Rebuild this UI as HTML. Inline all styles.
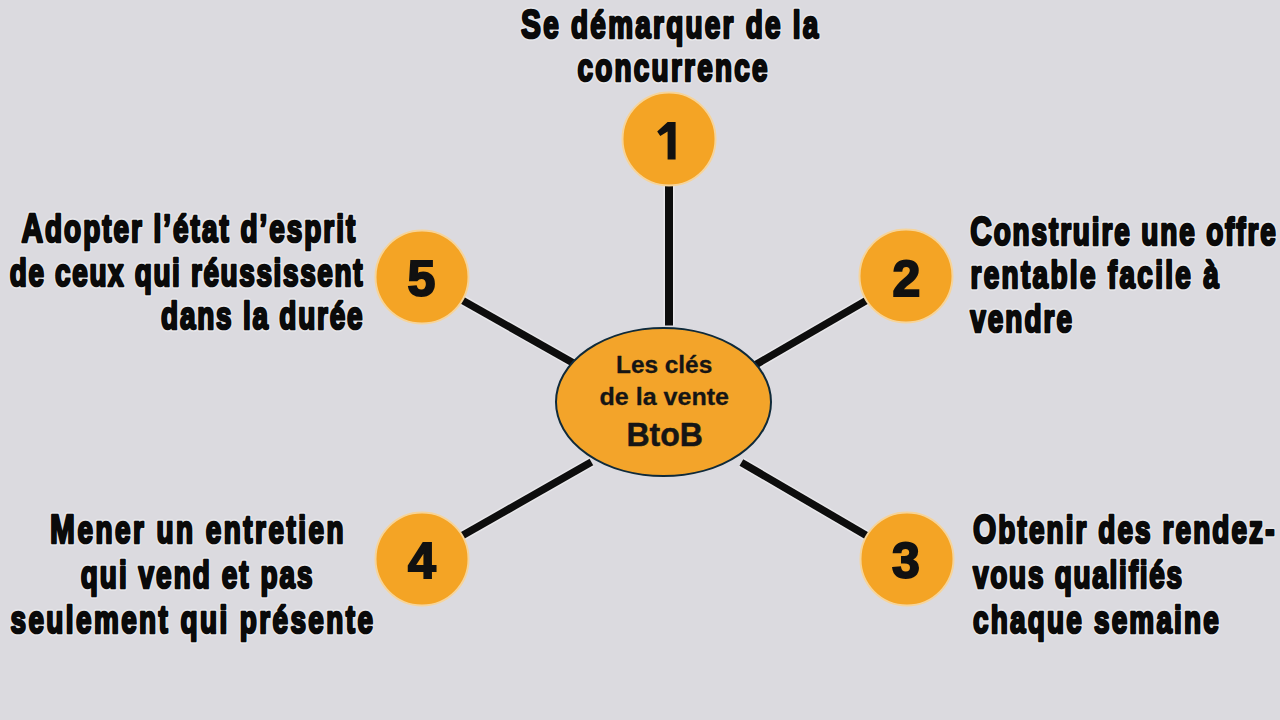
<!DOCTYPE html>
<html><head><meta charset="utf-8"><style>
html,body{margin:0;padding:0;width:1280px;height:720px;overflow:hidden;background:#dbdadf;}
svg{display:block;font-family:"Liberation Sans",sans-serif;}
</style></head><body>
<svg width="1280" height="720" viewBox="0 0 1280 720">
<rect width="1280" height="720" fill="#dbdadf"/>
<line x1="669" y1="325.5" x2="669" y2="139" stroke="#efeff1" stroke-width="11" opacity="0.7"/>
<line x1="700" y1="397" x2="906" y2="277.5" stroke="#efeff1" stroke-width="10.5" opacity="0.7"/>
<line x1="741.4" y1="462.5" x2="907" y2="559.2" stroke="#efeff1" stroke-width="10.5" opacity="0.7"/>
<line x1="591.4" y1="462" x2="422" y2="558.6" stroke="#efeff1" stroke-width="10.5" opacity="0.7"/>
<line x1="640" y1="400.8" x2="422" y2="277.4" stroke="#efeff1" stroke-width="10.5" opacity="0.7"/>
<line x1="669" y1="325.5" x2="669" y2="139" stroke="#0d0d0d" stroke-width="8"/>
<line x1="700" y1="397" x2="906" y2="277.5" stroke="#0d0d0d" stroke-width="7.5"/>
<line x1="741.4" y1="462.5" x2="907" y2="559.2" stroke="#0d0d0d" stroke-width="7.5"/>
<line x1="591.4" y1="462" x2="422" y2="558.6" stroke="#0d0d0d" stroke-width="7.5"/>
<line x1="640" y1="400.8" x2="422" y2="277.4" stroke="#0d0d0d" stroke-width="7.5"/>
<circle cx="669" cy="139" r="46.5" fill="#f4a425" stroke="#f6d49a" stroke-width="2"/>
<circle cx="906" cy="276" r="46.5" fill="#f4a425" stroke="#f6d49a" stroke-width="2"/>
<circle cx="907" cy="559" r="46.5" fill="#f4a425" stroke="#f6d49a" stroke-width="2"/>
<circle cx="422" cy="559" r="46.5" fill="#f4a425" stroke="#f6d49a" stroke-width="2"/>
<circle cx="422" cy="277" r="46.5" fill="#f4a425" stroke="#f6d49a" stroke-width="2"/>
<path d="M667.6 121.9 L675.6 121.9 L675.6 159.4 L667.6 159.4 L667.6 131.4 L660.3 135.9 L657.2 131.6 Z" fill="#111"/>
<text x="906.3" y="295.5" text-anchor="middle" font-size="50" font-weight="700" fill="#111" stroke="#111" stroke-width="2">2</text>
<text x="906" y="578.0" text-anchor="middle" font-size="50" font-weight="700" fill="#111" stroke="#111" stroke-width="2">3</text>
<text x="422" y="578.0" text-anchor="middle" font-size="50" font-weight="700" fill="#111" stroke="#111" stroke-width="2">4</text>
<text x="421.5" y="295.7" text-anchor="middle" font-size="50" font-weight="700" fill="#111" stroke="#111" stroke-width="2">5</text>
<ellipse cx="663.5" cy="402" rx="107.5" ry="74" fill="#f3a42a" stroke="#0f2a3a" stroke-width="2"/>
<text transform="translate(521.1 37.5) scale(0.72 1)" textLength="412.8" lengthAdjust="spacing" font-size="38.8" font-weight="700" fill="#e9e9ec" stroke="#e9e9ec" stroke-width="5.800000000000001" stroke-linejoin="round" opacity="0.8"><tspan font-size="41.5">S</tspan>e démarquer de la</text>
<text transform="translate(521.1 37.5) scale(0.72 1)" textLength="412.8" lengthAdjust="spacing" font-size="38.8" font-weight="700" fill="#0a0a0a" stroke="#0a0a0a" stroke-width="2.6" stroke-linejoin="round"><tspan font-size="41.5">S</tspan>e démarquer de la</text>
<text transform="translate(577.5 80.7) scale(0.72 1)" textLength="263.9" lengthAdjust="spacing" font-size="38.8" font-weight="700" fill="#e9e9ec" stroke="#e9e9ec" stroke-width="5.800000000000001" stroke-linejoin="round" opacity="0.8">concurrence</text>
<text transform="translate(577.5 80.7) scale(0.72 1)" textLength="263.9" lengthAdjust="spacing" font-size="38.8" font-weight="700" fill="#0a0a0a" stroke="#0a0a0a" stroke-width="2.6" stroke-linejoin="round">concurrence</text>
<text transform="translate(21.5 242.2) scale(0.72 1)" textLength="463.5" lengthAdjust="spacing" font-size="38.8" font-weight="700" fill="#e9e9ec" stroke="#e9e9ec" stroke-width="5.800000000000001" stroke-linejoin="round" opacity="0.8"><tspan font-size="41.5">A</tspan>dopter l’état d’esprit</text>
<text transform="translate(21.5 242.2) scale(0.72 1)" textLength="463.5" lengthAdjust="spacing" font-size="38.8" font-weight="700" fill="#0a0a0a" stroke="#0a0a0a" stroke-width="2.6" stroke-linejoin="round"><tspan font-size="41.5">A</tspan>dopter l’état d’esprit</text>
<text transform="translate(9.8 285.5) scale(0.72 1)" textLength="489.9" lengthAdjust="spacing" font-size="38.8" font-weight="700" fill="#e9e9ec" stroke="#e9e9ec" stroke-width="5.800000000000001" stroke-linejoin="round" opacity="0.8">de ceux qui réussissent</text>
<text transform="translate(9.8 285.5) scale(0.72 1)" textLength="489.9" lengthAdjust="spacing" font-size="38.8" font-weight="700" fill="#0a0a0a" stroke="#0a0a0a" stroke-width="2.6" stroke-linejoin="round">de ceux qui réussissent</text>
<text transform="translate(161.1 328.9) scale(0.72 1)" textLength="279.7" lengthAdjust="spacing" font-size="38.8" font-weight="700" fill="#e9e9ec" stroke="#e9e9ec" stroke-width="5.800000000000001" stroke-linejoin="round" opacity="0.8">dans la durée</text>
<text transform="translate(161.1 328.9) scale(0.72 1)" textLength="279.7" lengthAdjust="spacing" font-size="38.8" font-weight="700" fill="#0a0a0a" stroke="#0a0a0a" stroke-width="2.6" stroke-linejoin="round">dans la durée</text>
<text transform="translate(970.2 244.89999999999998) scale(0.72 1)" textLength="424.4" lengthAdjust="spacing" font-size="38.8" font-weight="700" fill="#e9e9ec" stroke="#e9e9ec" stroke-width="5.800000000000001" stroke-linejoin="round" opacity="0.8"><tspan font-size="41.5">C</tspan>onstruire une offre</text>
<text transform="translate(970.2 244.89999999999998) scale(0.72 1)" textLength="424.4" lengthAdjust="spacing" font-size="38.8" font-weight="700" fill="#0a0a0a" stroke="#0a0a0a" stroke-width="2.6" stroke-linejoin="round"><tspan font-size="41.5">C</tspan>onstruire une offre</text>
<text transform="translate(970.5 288.2) scale(0.72 1)" textLength="344.9" lengthAdjust="spacing" font-size="38.8" font-weight="700" fill="#e9e9ec" stroke="#e9e9ec" stroke-width="5.800000000000001" stroke-linejoin="round" opacity="0.8">rentable facile à</text>
<text transform="translate(970.5 288.2) scale(0.72 1)" textLength="344.9" lengthAdjust="spacing" font-size="38.8" font-weight="700" fill="#0a0a0a" stroke="#0a0a0a" stroke-width="2.6" stroke-linejoin="round">rentable facile à</text>
<text transform="translate(970.2 331.5) scale(0.72 1)" textLength="141.4" lengthAdjust="spacing" font-size="38.8" font-weight="700" fill="#e9e9ec" stroke="#e9e9ec" stroke-width="5.800000000000001" stroke-linejoin="round" opacity="0.8">vendre</text>
<text transform="translate(970.2 331.5) scale(0.72 1)" textLength="141.4" lengthAdjust="spacing" font-size="38.8" font-weight="700" fill="#0a0a0a" stroke="#0a0a0a" stroke-width="2.6" stroke-linejoin="round">vendre</text>
<text transform="translate(50.1 543.4000000000001) scale(0.72 1)" textLength="407.5" lengthAdjust="spacing" font-size="38.8" font-weight="700" fill="#e9e9ec" stroke="#e9e9ec" stroke-width="5.800000000000001" stroke-linejoin="round" opacity="0.8"><tspan font-size="41.5">M</tspan>ener un entretien</text>
<text transform="translate(50.1 543.4000000000001) scale(0.72 1)" textLength="407.5" lengthAdjust="spacing" font-size="38.8" font-weight="700" fill="#0a0a0a" stroke="#0a0a0a" stroke-width="2.6" stroke-linejoin="round"><tspan font-size="41.5">M</tspan>ener un entretien</text>
<text transform="translate(80.7 587.9000000000001) scale(0.72 1)" textLength="322.1" lengthAdjust="spacing" font-size="38.8" font-weight="700" fill="#e9e9ec" stroke="#e9e9ec" stroke-width="5.800000000000001" stroke-linejoin="round" opacity="0.8">qui vend et pas</text>
<text transform="translate(80.7 587.9000000000001) scale(0.72 1)" textLength="322.1" lengthAdjust="spacing" font-size="38.8" font-weight="700" fill="#0a0a0a" stroke="#0a0a0a" stroke-width="2.6" stroke-linejoin="round">qui vend et pas</text>
<text transform="translate(10.5 632.5) scale(0.72 1)" textLength="503.5" lengthAdjust="spacing" font-size="38.8" font-weight="700" fill="#e9e9ec" stroke="#e9e9ec" stroke-width="5.800000000000001" stroke-linejoin="round" opacity="0.8">seulement qui présente</text>
<text transform="translate(10.5 632.5) scale(0.72 1)" textLength="503.5" lengthAdjust="spacing" font-size="38.8" font-weight="700" fill="#0a0a0a" stroke="#0a0a0a" stroke-width="2.6" stroke-linejoin="round">seulement qui présente</text>
<text transform="translate(973.0 542.9000000000001) scale(0.72 1)" textLength="418.7" lengthAdjust="spacing" font-size="38.8" font-weight="700" fill="#e9e9ec" stroke="#e9e9ec" stroke-width="5.800000000000001" stroke-linejoin="round" opacity="0.8"><tspan font-size="41.5">O</tspan>btenir des rendez-</text>
<text transform="translate(973.0 542.9000000000001) scale(0.72 1)" textLength="418.7" lengthAdjust="spacing" font-size="38.8" font-weight="700" fill="#0a0a0a" stroke="#0a0a0a" stroke-width="2.6" stroke-linejoin="round"><tspan font-size="41.5">O</tspan>btenir des rendez-</text>
<text transform="translate(973.0 587.7) scale(0.72 1)" textLength="290.3" lengthAdjust="spacing" font-size="38.8" font-weight="700" fill="#e9e9ec" stroke="#e9e9ec" stroke-width="5.800000000000001" stroke-linejoin="round" opacity="0.8">vous qualifiés</text>
<text transform="translate(973.0 587.7) scale(0.72 1)" textLength="290.3" lengthAdjust="spacing" font-size="38.8" font-weight="700" fill="#0a0a0a" stroke="#0a0a0a" stroke-width="2.6" stroke-linejoin="round">vous qualifiés</text>
<text transform="translate(973.0 632.5) scale(0.72 1)" textLength="341.5" lengthAdjust="spacing" font-size="38.8" font-weight="700" fill="#e9e9ec" stroke="#e9e9ec" stroke-width="5.800000000000001" stroke-linejoin="round" opacity="0.8">chaque semaine</text>
<text transform="translate(973.0 632.5) scale(0.72 1)" textLength="341.5" lengthAdjust="spacing" font-size="38.8" font-weight="700" fill="#0a0a0a" stroke="#0a0a0a" stroke-width="2.6" stroke-linejoin="round">chaque semaine</text>
<text x="616.0" y="372.8" textLength="96.2" lengthAdjust="spacingAndGlyphs" font-size="23.5" font-weight="700" fill="#151515" stroke="#151515" stroke-width="0.3" stroke-linejoin="round">Les clés</text>
<text x="599.5" y="404.6" textLength="129.5" lengthAdjust="spacingAndGlyphs" font-size="23.5" font-weight="700" fill="#151515" stroke="#151515" stroke-width="0.3" stroke-linejoin="round">de la vente</text>
<text x="626.4" y="445.8" textLength="76.6" lengthAdjust="spacingAndGlyphs" font-size="33" font-weight="700" fill="#151515" stroke="#151515" stroke-width="0.5" stroke-linejoin="round">BtoB</text>
</svg>
</body></html>
